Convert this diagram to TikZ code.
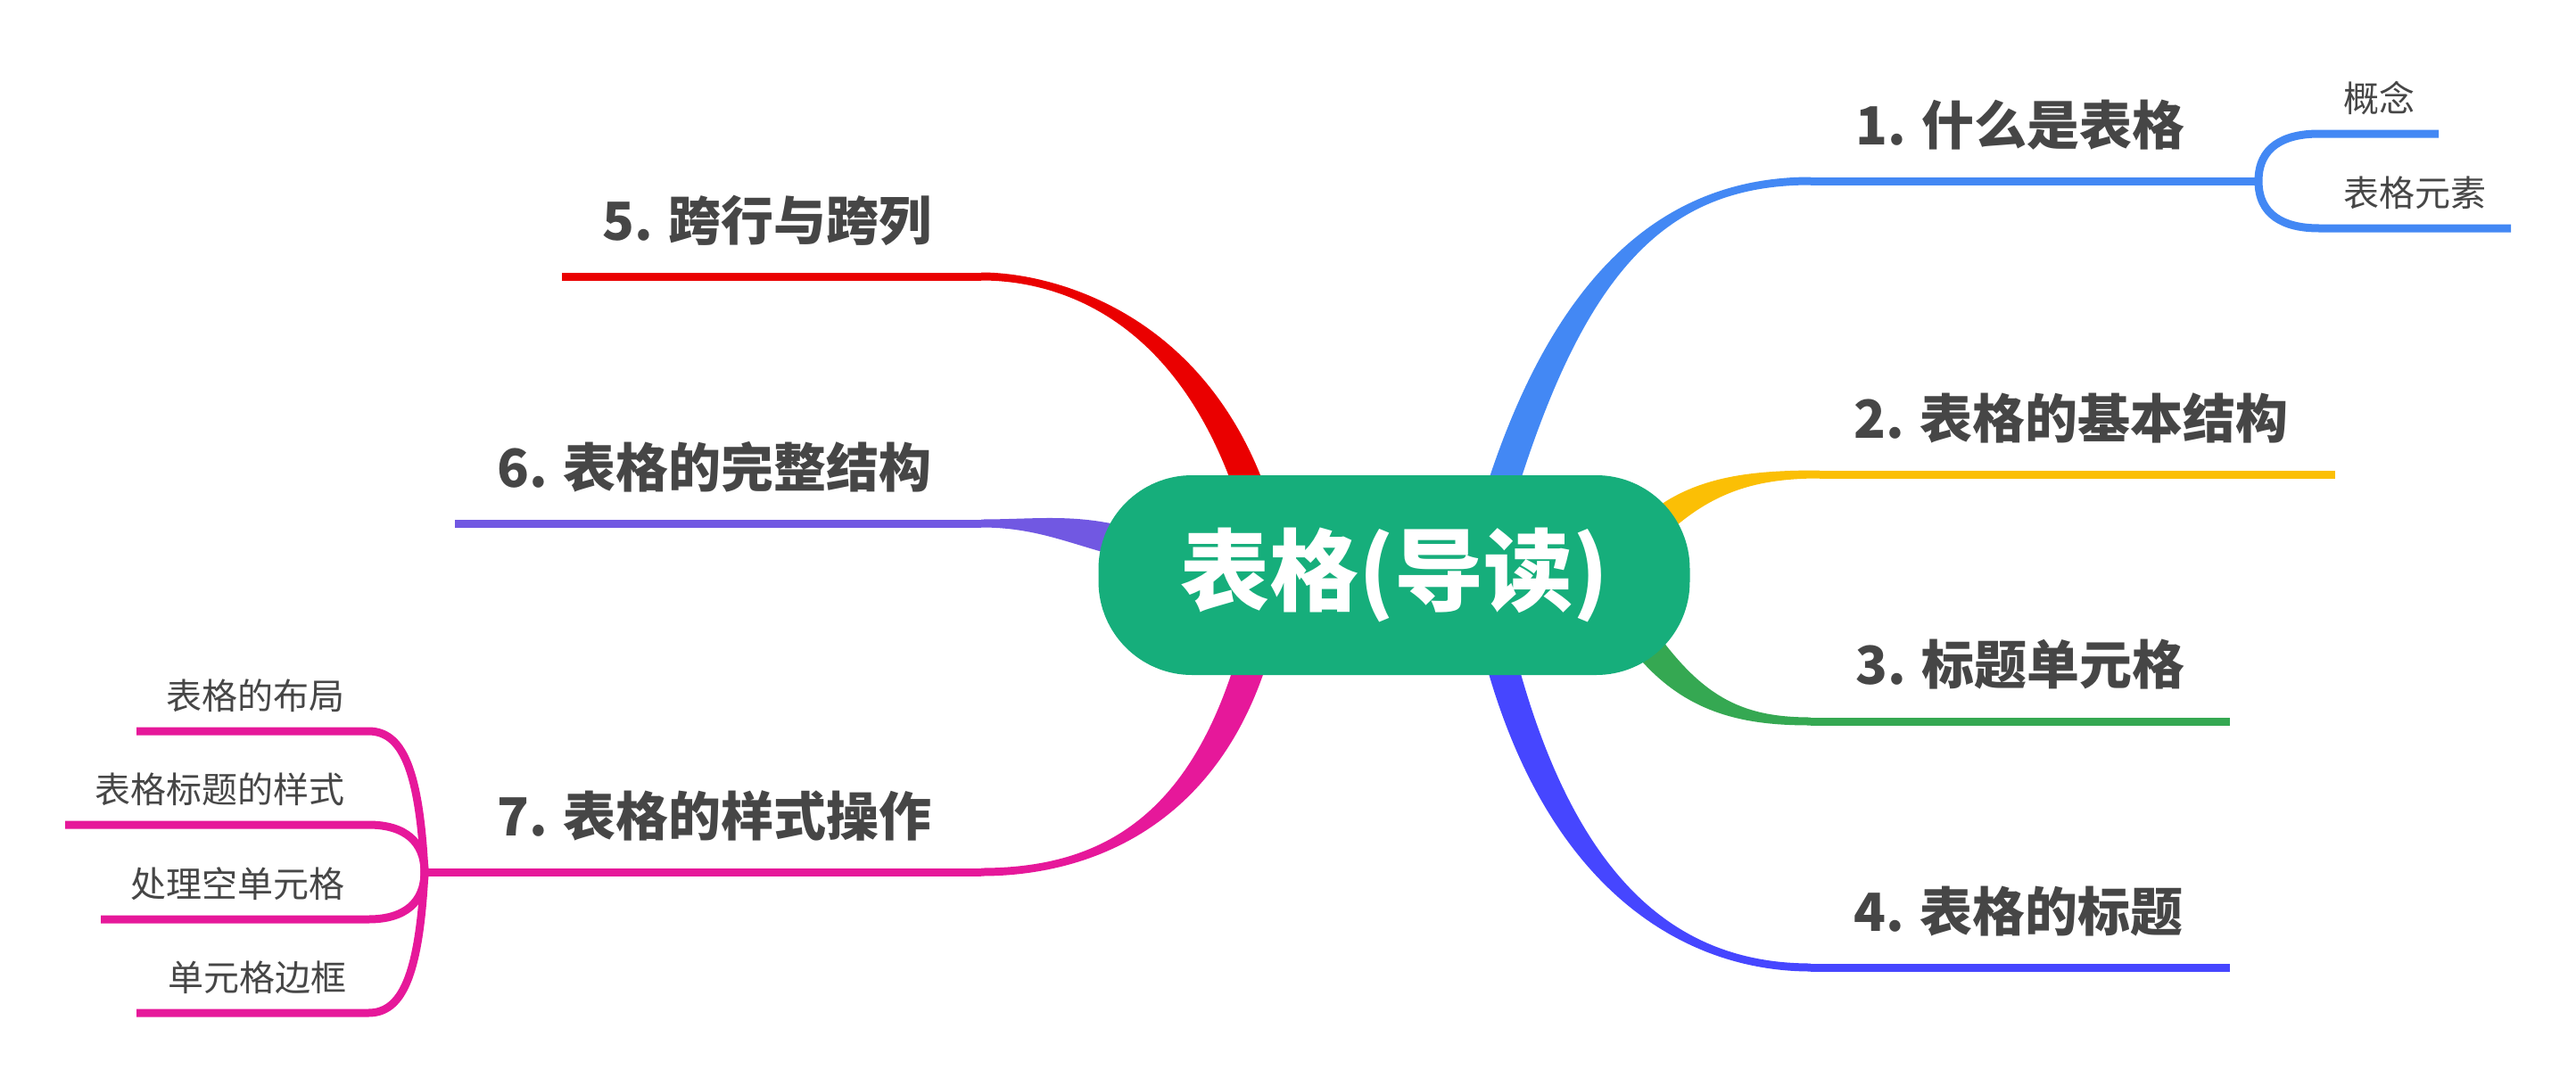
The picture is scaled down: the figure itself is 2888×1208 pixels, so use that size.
\documentclass[tikz,border=0pt]{standalone}
\usepackage{fontspec}
\setmainfont{Noto Sans CJK SC}
\usetikzlibrary{calc,backgrounds}
\definecolor{cgreen}{HTML}{16AE7B}
\definecolor{txt}{HTML}{464646}
\definecolor{cblue}{HTML}{4388F4}
\definecolor{cyellow}{HTML}{FBBF05}
\definecolor{cgr}{HTML}{35A852}
\definecolor{cviolet}{HTML}{4646FF}
\definecolor{cred}{HTML}{EA0000}
\definecolor{cpurple}{HTML}{7158E2}
\definecolor{cpink}{HTML}{E6189A}
% tapered branch: #1 colour, #2 P0, #3 C1, #4 C2, #5 P3, #6 half-width vector at start, #7 at end
\newcommand\mmtaper[7]{%
  \fill[#1] ($#2+#6$) .. controls ($#3+#6$) and ($#4+#7$) .. ($#5+#7$)
     -- ($#5-#7$) .. controls ($#4-#7$) and ($#3-#6$) .. ($#2-#6$) -- cycle;}
\tikzset{
  lbl/.style={text=txt, font=\fontsize{59pt}{72pt}\selectfont\bfseries, inner sep=0pt},
  sublbl/.style={text=txt, font=\fontsize{40pt}{48pt}\selectfont, inner sep=0pt},
  branchline/.style={line width=9pt},
  central/.style={fill=cgreen, rounded corners=105pt, minimum width=663pt,
    minimum height=224pt, inner sep=0pt, text=white,
    font=\fontsize{100pt}{120pt}\selectfont\bfseries}
}
\begin{document}
\begin{tikzpicture}[x=1pt,y=-1pt]
\useasboundingbox (0,0) rectangle (2888,1208);

% central node
\node[central] (c) at (1563,645) {表格(导读)};

% labels
\node[lbl, anchor=base west] (l1) at (2080,162) {1. 什么是表格};
\node[lbl, anchor=base west] (l2) at (2078,491) {2. 表格的基本结构};
\node[lbl, anchor=base west] (l3) at (2080,767) {3. 标题单元格};
\node[lbl, anchor=base west] (l4) at (2078,1044) {4. 表格的标题};
\node[lbl, anchor=base east] (l5) at (1045,269) {5. 跨行与跨列};
\node[lbl, anchor=base east] (l6) at (1045,546) {6. 表格的完整结构};
\node[lbl, anchor=base east] (l7) at (1045,937) {7. 表格的样式操作};

\node[sublbl, anchor=base west] (s11) at (2627,125) {概念};
\node[sublbl, anchor=base west] (s12) at (2627,231) {表格元素};
\node[sublbl, anchor=base east] (s71) at (387,795) {表格的布局};
\node[sublbl, anchor=base east] (s72) at (387,900) {表格标题的样式};
\node[sublbl, anchor=base east] (s73) at (387,1006) {处理空单元格};
\node[sublbl, anchor=base east] (s74) at (389,1111) {单元格边框};

% coordinates of branch ends
\coordinate (b1) at (2030,203);  \coordinate (j1) at (2532,203);
\coordinate (b2) at (2040,532);  \coordinate (e2) at (2618,532);
\coordinate (b3) at (2030,809);  \coordinate (e3) at (2500,809);
\coordinate (b4) at (2030,1085); \coordinate (e4) at (2500,1085);
\coordinate (b5) at (1100,310);  \coordinate (e5) at (630,310);
\coordinate (b6) at (1100,587);  \coordinate (e6) at (510,587);
\coordinate (b7) at (1100,978);  \coordinate (j7) at (476,978);

\begin{scope}[on background layer]
\fill[white] (0,0) rectangle (2888,1208);
% 1 blue
\mmtaper{cblue}{(1680,560)}{(1760,300)}{(1870,203)}{(b1)}{(18,0)}{(0,4.5)}
\draw[branchline, cblue] (b1) -- (j1);
\draw[branchline, cblue] (j1) .. controls (2532,165) and (2560,150) .. (2600,150) -- (2734,150);
\draw[branchline, cblue] (j1) .. controls (2532,241) and (2560,256) .. (2600,256) -- (2815,256);
% 2 yellow
\mmtaper{cyellow}{(1845,600)}{(1900,545)}{(1960,532)}{(b2)}{(11,11)}{(0,4.5)}
\draw[branchline, cyellow] (b2) -- (e2);
% 3 green
\mmtaper{cgr}{(1830,700)}{(1890,790)}{(1950,809)}{(b3)}{(14,-9.5)}{(0,-4.5)}
\draw[branchline, cgr] (b3) -- (e3);
% 4 violet
\mmtaper{cviolet}{(1680,730)}{(1750,1000)}{(1890,1085)}{(b4)}{(18,0)}{(0,-4.5)}
\draw[branchline, cviolet] (b4) -- (e4);
% 5 red
\mmtaper{cred}{(1405,560)}{(1335,350)}{(1180,310)}{(b5)}{(18,0)}{(0,-4.5)}
\draw[branchline, cred] (b5) -- (e5);
% 6 purple
\mmtaper{cpurple}{(1260,608)}{(1200,592)}{(1160,587)}{(b6)}{(4.5,-16.5)}{(0,-4.5)}
\draw[branchline, cpurple] (b6) -- (e6);
% 7 pink
\mmtaper{cpink}{(1405,735)}{(1350,920)}{(1230,978)}{(b7)}{(18,0)}{(0,4.5)}
\draw[branchline, cpink] (b7) -- (j7);
\draw[branchline, cpink] (j7) .. controls (470,860) and (450,820) .. (413,820) -- (153,820);
\draw[branchline, cpink] (j7) .. controls (476,945) and (455,925) .. (413,925) -- (73,925);
\draw[branchline, cpink] (j7) .. controls (476,1011) and (455,1031) .. (413,1031) -- (113,1031);
\draw[branchline, cpink] (j7) .. controls (470,1096) and (450,1136) .. (413,1136) -- (153,1136);
\end{scope}
\end{tikzpicture}
\end{document}
